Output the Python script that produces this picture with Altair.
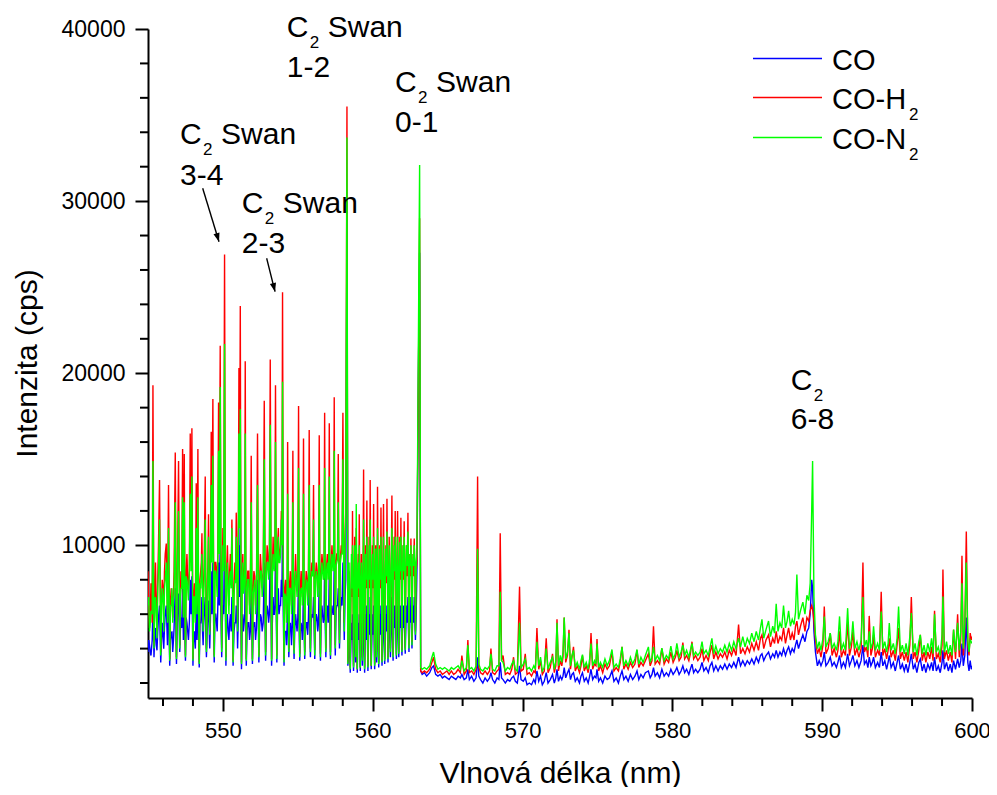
import altair as alt
import pandas as pd

# ---------------- spectrum data ----------------
# Region A: 545 - 558.3 nm (Swan 3-4, 2-3 band sequences, up to 1-2 head)
wl_a = [545.00, 545.10, 545.20, 545.28, 545.33, 545.40, 545.50, 545.60, 545.70, 545.77,
        545.85, 545.95, 546.05, 546.15, 546.22, 546.30, 546.37, 546.45, 546.55, 546.65,
        546.74, 546.82, 546.90, 546.97, 547.04, 547.12, 547.20, 547.31, 547.36, 547.42,
        547.50, 547.60, 547.70, 547.82, 547.87, 547.93, 548.00, 548.10, 548.16, 548.22,
        548.27, 548.33, 548.42, 548.52, 548.60, 548.68, 548.75, 548.82, 548.90, 548.97,
        549.04, 549.12, 549.22, 549.27, 549.33, 549.42, 549.52, 549.62, 549.71, 549.76,
        549.82, 549.92, 550.00, 550.11, 550.20, 550.30, 550.40, 550.50, 550.60, 550.68,
        550.80, 550.89, 550.98, 551.07, 551.11, 551.16, 551.24, 551.33, 551.42, 551.49,
        551.56, 551.66, 551.78, 551.89, 551.97, 552.07, 552.18, 552.31, 552.40, 552.50,
        552.62, 552.76, 552.85, 552.95, 553.05, 553.16, 553.25, 553.35, 553.43, 553.51,
        553.60, 553.70, 553.80, 553.90, 553.98, 554.08, 554.18, 554.25, 554.32, 554.40,
        554.50, 554.58, 554.67, 554.75, 554.85, 554.95, 555.05, 555.13, 555.22, 555.30,
        555.38, 555.46, 555.56, 555.66, 555.76, 555.84, 555.94, 556.05, 556.13, 556.23,
        556.33, 556.43, 556.51, 556.61, 556.70, 556.79, 556.87, 556.97, 557.03, 557.10,
        557.18, 557.28, 557.35, 557.43, 557.50, 557.60, 557.70, 557.78, 557.90, 558.01,
        558.10, 558.20, 558.28]
co_a = [3800, 4200, 3600, 4500, 6500, 3500, 5200, 3900, 5800, 6500,
        3200, 5500, 4000, 6000, 6500, 4200, 7000, 3000, 4800, 3800,
        5200, 7500, 3100, 6000, 7200, 3800, 5800, 7500, 4500, 7000,
        3300, 5500, 4500, 8000, 6000, 8200, 3000, 5000, 4000, 6500,
        4500, 7500, 2900, 5500, 7000, 4200, 6000, 7000, 3500, 5500,
        6800, 4000, 8500, 6000, 9000, 3200, 6000, 5000, 9000, 6500,
        10000, 3500, 6500, 11000, 3000, 6000, 4500, 6000, 7000, 3000,
        5500, 6500, 4000, 10000, 7000, 12000, 2800, 6000, 5500, 9000,
        3000, 5500, 4500, 7500, 3100, 5500, 4500, 8000, 3200, 6000,
        5000, 9000, 3300, 6500, 5500, 10000, 3000, 7000, 6000, 9500,
        3200, 7500, 6500, 8000, 11500, 3000, 5000, 4200, 8000, 3500,
        5500, 4200, 7500, 3400, 6000, 5000, 8500, 3300, 5500, 4500,
        8000, 3400, 5500, 4800, 8000, 3500, 6000, 7000, 3400, 6000,
        5000, 8000, 3300, 6500, 5500, 9000, 3500, 6500, 5500, 8500,
        3400, 6500, 6000, 9000, 3600, 6500, 7500, 4000, 7000, 9000,
        4500, 8000, 30000]
h2_a = [8500, 5200, 7800, 5500, 19300, 4200, 9000, 5000, 10000, 13800,
        3800, 8000, 6500, 9500, 10100, 6000, 13500, 3400, 7500, 5800,
        8500, 15400, 3500, 9000, 14900, 4200, 8500, 15600, 6000, 15300,
        3600, 9500, 7500, 16500, 9000, 16800, 3400, 7800, 6000, 13600,
        6500, 15600, 3200, 8500, 10700, 5500, 9000, 14000, 4000, 8000,
        11800, 5000, 16600, 10000, 18500, 3600, 9000, 8000, 18300, 11000,
        21600, 4000, 11000, 26900, 3500, 10000, 6500, 9500, 11500, 3300,
        9000, 11900, 5500, 20300, 12000, 23900, 3200, 9500, 8000, 20700,
        3400, 8500, 6500, 15200, 3400, 8500, 6500, 16500, 3600, 9500,
        7500, 18400, 3800, 10000, 8500, 20800, 3400, 10500, 9000, 19300,
        3600, 11000, 9500, 12000, 24700, 3400, 8000, 6000, 16000, 4000,
        8500, 6500, 15500, 3900, 9500, 7500, 18100, 3700, 8500, 7000,
        16200, 3800, 8500, 7000, 16700, 4000, 9000, 13500, 3900, 9000,
        7500, 16400, 3700, 9500, 8500, 17700, 4000, 9500, 8500, 17100,
        3800, 10000, 9000, 18600, 4200, 9500, 15300, 4500, 10000, 17700,
        5500, 12000, 35500]
n2_a = [6500, 5000, 6200, 6000, 14900, 4000, 7000, 4600, 8500, 11500,
        3600, 7500, 5000, 8000, 9000, 5500, 11000, 3300, 6500, 5500,
        7200, 12500, 3400, 8500, 12000, 4000, 7500, 12800, 5800, 12500,
        3500, 8000, 6800, 13000, 8500, 14000, 3300, 7000, 5500, 11000,
        6000, 12800, 3100, 7500, 9500, 5000, 8000, 11500, 3800, 7000,
        10500, 4800, 13500, 9000, 15200, 3500, 8500, 7000, 15500, 9500,
        19200, 3800, 10000, 21700, 3300, 9000, 6000, 8500, 11000, 3200,
        8000, 10500, 5000, 16500, 11000, 17900, 3100, 9000, 7500, 16500,
        3300, 8000, 6000, 12500, 3300, 7500, 6000, 13500, 3500, 8500,
        7000, 15000, 3600, 9000, 8000, 17000, 3300, 9500, 8500, 16000,
        3400, 10500, 9000, 11500, 19500, 3200, 7000, 5500, 13000, 3800,
        7500, 6000, 12500, 3700, 8500, 7000, 14500, 3500, 7500, 6500,
        13000, 3600, 8000, 6500, 13500, 3800, 8500, 11500, 3600, 8500,
        7000, 13500, 3500, 9000, 8000, 14500, 3800, 9000, 8000, 14000,
        3600, 9500, 8500, 15500, 4000, 9000, 12500, 4300, 9500, 15000,
        5000, 11500, 33700]

# Region A, fine structure between the main lines
wl_af = [545.05, 545.15, 545.45, 545.55, 545.65, 545.90, 546.00, 546.10, 546.50, 546.60,
         546.70, 547.16, 547.25, 547.46, 547.55, 547.65, 547.76, 548.05, 548.37, 548.47,
         548.56, 548.64, 548.71, 548.86, 549.00, 549.08, 549.17, 549.38, 549.47, 549.57,
         549.66, 549.87, 549.96, 550.05, 550.16, 550.25, 550.35, 550.45, 550.55, 550.64,
         550.74, 550.85, 550.94, 551.02, 551.20, 551.29, 551.37, 551.46, 551.53, 551.61,
         551.72, 551.83, 551.93, 552.02, 552.12, 552.24, 552.36, 552.45, 552.56, 552.69,
         552.81, 552.90, 553.00, 553.10, 553.21, 553.30, 553.39, 553.47, 553.56, 553.65,
         553.75, 553.85, 553.94, 554.03, 554.13, 554.22, 554.29, 554.36, 554.45, 554.54,
         554.62, 554.71, 554.80, 554.90, 555.00, 555.09, 555.17, 555.26, 555.34, 555.42,
         555.51, 555.61, 555.71, 555.80, 555.89, 556.00, 556.09, 556.18, 556.28, 556.38,
         556.47, 556.56, 556.65, 556.75, 556.83, 556.92, 557.00, 557.06, 557.14, 557.23,
         557.31, 557.39, 557.47, 557.55, 557.65, 557.74, 557.84, 557.95, 558.06, 558.15]
co_af = [4500, 3800, 4800, 4200, 5000, 4500, 4800, 5200, 4500, 5000,
         4500, 5000, 5200, 5000, 5800, 5000, 5500, 4800, 5000, 5500,
         6000, 5000, 5200, 5000, 5800, 5200, 5800, 5500, 6000, 5500,
         6500, 6000, 5500, 6000, 6500, 5500, 5000, 5500, 5000, 5500,
         5000, 5500, 6000, 5500, 6000, 5500, 5000, 6000, 6000, 5000,
         5500, 5000, 5500, 5200, 5500, 5200, 5800, 5200, 5800, 5500,
         6000, 5800, 6200, 6000, 6200, 5500, 6000, 6500, 6000, 6500,
         6000, 6500, 7000, 6000, 5000, 5000, 5500, 5000, 5200, 5000,
         5500, 5000, 5200, 5500, 5800, 5200, 5000, 5200, 5500, 5200,
         5000, 5500, 5800, 5200, 5500, 5800, 5200, 5500, 5800, 5500,
         5200, 5800, 6000, 5800, 5500, 6000, 6200, 5800, 5500, 6000,
         6200, 6000, 5800, 6200, 6500, 6000, 6200, 6500, 6500, 7000]
h2_af = [6500, 6000, 7000, 6500, 8000, 6500, 7500, 8500, 6800, 7000,
         7200, 7000, 7500, 7000, 8500, 8000, 8500, 7000, 7500, 8000,
         9000, 7500, 7500, 7000, 9000, 8000, 9000, 8000, 9000, 8500,
         9500, 8500, 8500, 9000, 9500, 8500, 8000, 8500, 8000, 8500,
         7500, 8000, 9000, 8500, 9000, 8500, 7500, 9000, 9000, 7500,
         8500, 7500, 8000, 7500, 8200, 7800, 8500, 7800, 8500, 8500,
         9000, 8500, 9500, 9000, 9500, 8500, 9000, 9500, 9000, 10000,
         9000, 10000, 10500, 9000, 7500, 7000, 8000, 7500, 7800, 7500,
         8000, 7500, 7800, 8000, 8500, 7500, 7500, 7800, 8000, 7500,
         7500, 8000, 8500, 7800, 8200, 8500, 7800, 8200, 8500, 8200,
         7800, 8500, 9000, 8500, 8000, 8800, 9000, 8500, 8000, 9000,
         9200, 9000, 8500, 9000, 9500, 9000, 9200, 9500, 9500, 10000]
n2_af = [7000, 5500, 6800, 6000, 7500, 6500, 7000, 7500, 6500, 7500,
         6800, 7000, 7500, 7200, 8200, 7500, 8500, 7000, 7000, 7800,
         8500, 7200, 7000, 7000, 8500, 7500, 8500, 8000, 8500, 8000,
         9000, 8500, 8000, 8500, 9000, 8000, 7500, 8000, 7500, 8000,
         7000, 7800, 8500, 8000, 8500, 8000, 7200, 8500, 8500, 7200,
         8000, 7200, 8000, 7200, 8000, 7500, 8200, 7500, 8500, 8200,
         8500, 8200, 9000, 8800, 9000, 8200, 8800, 9500, 8800, 9500,
         9000, 9500, 10000, 8500, 7200, 7000, 7800, 7200, 7500, 7200,
         7800, 7200, 7500, 7800, 8200, 7500, 7200, 7500, 7800, 7500,
         7200, 7800, 8200, 7500, 8000, 8200, 7500, 8000, 8200, 8000,
         7500, 8200, 8500, 8200, 8000, 8500, 8800, 8500, 8000, 8800,
         9000, 8800, 8500, 8800, 9200, 8800, 9000, 9500, 9000, 9800]

# Region B: 558.3 - 563.2 nm (Swan 1-2 tail up to the 0-1 head)
wl_b = [558.34, 558.42, 558.50, 558.58, 558.65, 558.72, 558.80, 558.86, 558.90, 558.97,
        559.04, 559.10, 559.17, 559.24, 559.31, 559.39, 559.46, 559.53, 559.61, 559.68,
        559.76, 559.83, 559.90, 559.98, 560.06, 560.13, 560.20, 560.26, 560.32, 560.40,
        560.47, 560.55, 560.62, 560.72, 560.80, 560.88, 560.95, 561.02, 561.10, 561.18,
        561.28, 561.36, 561.43, 561.50, 561.58, 561.66, 561.74, 561.81, 561.88, 561.95,
        562.03, 562.10, 562.17, 562.25, 562.35, 562.42, 562.48, 562.55, 562.62, 562.70,
        562.77, 562.85, 562.95, 563.05, 563.13, 563.20]
co_b = [3000, 5000, 2600, 5500, 6000, 2700, 6000, 3200, 6500, 2600,
        5500, 6000, 2700, 5500, 3000, 7000, 2600, 6000, 6500, 2700,
        6000, 7000, 2800, 6000, 6500, 2800, 6000, 3200, 7000, 2900,
        6000, 6500, 3000, 6500, 3100, 6000, 6500, 3200, 6500, 3500,
        7000, 3300, 6500, 6500, 3400, 6500, 3500, 6500, 6500, 3600,
        6500, 6500, 3700, 6500, 7000, 3800, 6500, 7000, 4000, 6500,
        7000, 4500, 8500, 20000, 27000, 2700]
h2_b = [3200, 8500, 2900, 9000, 12000, 3000, 10500, 3800, 11000, 2800,
        9500, 11800, 2900, 9500, 3500, 14400, 2900, 10000, 12600, 3000,
        10500, 13800, 3000, 10000, 12400, 3100, 10000, 3800, 13400, 3200,
        10000, 12200, 3300, 12400, 3400, 10000, 12700, 3500, 10500, 4000,
        12900, 3600, 10500, 12000, 3700, 12000, 3800, 10500, 11600, 3900,
        10000, 11400, 4000, 10000, 11900, 4200, 9500, 10400, 4400, 9500,
        10400, 5000, 9000, 20000, 29000, 2700]
n2_b = [3100, 9000, 2800, 9500, 10000, 2900, 10000, 3500, 12400, 2800,
        9000, 10000, 2900, 9000, 3300, 11500, 2800, 9500, 10500, 2900,
        10000, 11500, 3000, 9500, 10500, 3000, 9800, 3500, 11000, 3100,
        9800, 10500, 3200, 10500, 3300, 9800, 10800, 3400, 10000, 3800,
        11000, 3500, 10000, 10500, 3600, 10500, 3700, 10200, 10500, 3800,
        10000, 10500, 3900, 10000, 10800, 4000, 9500, 10000, 4200, 9500,
        10000, 4800, 9500, 22000, 32100, 2900]

# Region B, fine structure
wl_bf = [558.38, 558.46, 558.54, 558.62, 558.69, 558.76, 558.83, 558.94, 559.00, 559.07,
         559.14, 559.20, 559.28, 559.35, 559.43, 559.50, 559.57, 559.65, 559.72, 559.80,
         559.87, 559.94, 560.02, 560.10, 560.17, 560.23, 560.29, 560.36, 560.44, 560.51,
         560.59, 560.67, 560.76, 560.84, 560.92, 560.99, 561.06, 561.14, 561.23, 561.32,
         561.40, 561.47, 561.54, 561.62, 561.70, 561.78, 561.85, 561.91, 561.99, 562.06,
         562.13, 562.21, 562.30, 562.38, 562.45, 562.52, 562.58, 562.66, 562.73, 562.81,
         562.90]
co_bf = [3500, 4000, 4200, 4500, 4000, 4500, 4200, 4000, 4500, 4500,
         4200, 4500, 4200, 4500, 4000, 4500, 4500, 4200, 4500, 4800,
         4200, 4500, 4800, 4200, 4500, 4800, 4500, 4800, 4500, 4800,
         4500, 4800, 4500, 4800, 5000, 4800, 5000, 4800, 5000, 4800,
         5000, 5200, 5000, 5200, 5000, 5200, 5200, 5000, 5200, 5200,
         5000, 5200, 5500, 5200, 5500, 5500, 5200, 5500, 5500, 5800,
         6000]
h2_bf = [5000, 6000, 6500, 7000, 6500, 7000, 6500, 6500, 7000, 7000,
         6500, 7000, 6500, 7500, 6500, 7000, 7500, 6500, 7000, 7500,
         6500, 7000, 7500, 6500, 7000, 7500, 7000, 7500, 7000, 7500,
         7000, 7500, 7000, 7500, 7800, 7500, 7800, 7500, 8000, 7500,
         7800, 8000, 7800, 8000, 7800, 8000, 8000, 7800, 8000, 8000,
         7800, 8000, 8200, 8000, 8000, 8200, 8000, 8200, 8200, 8500,
         8500]
n2_bf = [6000, 6500, 7000, 7500, 7000, 7500, 7000, 7000, 7500, 7500,
         7000, 7500, 7000, 8000, 7000, 7500, 8000, 7000, 7500, 8000,
         7000, 7500, 8000, 7000, 7500, 8000, 7500, 8000, 7500, 8000,
         7500, 8000, 7500, 8000, 8200, 8000, 8200, 8000, 8500, 8000,
         8200, 8500, 8200, 8500, 8200, 8500, 8500, 8200, 8500, 8500,
         8200, 8500, 8800, 8500, 8500, 8800, 8500, 8800, 8800, 9000,
         9000]

# Region C: 563.3 - 581.9 nm (baseline with isolated lines)
wl_c = [563.30, 563.45, 563.60, 563.80, 563.95, 564.06, 564.20, 564.35, 564.50, 564.65,
        564.80, 564.95, 565.10, 565.25, 565.40, 565.55, 565.70, 565.85, 565.95, 566.10,
        566.25, 566.35, 566.45, 566.60, 566.75, 566.90, 567.00, 567.08, 567.20, 567.35,
        567.50, 567.65, 567.80, 567.89, 568.00, 568.15, 568.30, 568.42, 568.51, 568.60,
        568.70, 568.85, 569.00, 569.15, 569.28, 569.40, 569.52, 569.65, 569.80, 569.90,
        570.05, 570.18, 570.30, 570.45, 570.60, 570.75, 570.85, 570.96, 571.08, 571.20,
        571.32, 571.45, 571.58, 571.70, 571.85, 572.00, 572.12, 572.22, 572.30, 572.40,
        572.52, 572.62, 572.70, 572.78, 572.88, 573.00, 573.10, 573.20, 573.30, 573.40,
        573.52, 573.65, 573.80, 573.90, 574.00, 574.12, 574.25, 574.38, 574.48, 574.57,
        574.68, 574.80, 574.90, 574.97, 575.08, 575.20, 575.35, 575.50, 575.65, 575.80,
        575.97, 576.10, 576.25, 576.40, 576.52, 576.64, 576.76, 576.90, 577.05, 577.20,
        577.35, 577.50, 577.64, 577.76, 577.90, 578.05, 578.20, 578.40, 578.52, 578.64,
        578.74, 578.85, 579.00, 579.15, 579.30, 579.45, 579.60, 579.75, 579.90, 580.05,
        580.20, 580.30, 580.45, 580.58, 580.70, 580.82, 580.95, 581.10, 581.20, 581.31,
        581.42, 581.55, 581.70, 581.85]
co_c = [2500, 2600, 2400, 2600, 2900, 3000, 2500, 2400, 2500, 2300,
        2400, 2300, 2200, 2400, 2300, 2200, 2400, 2300, 2500, 2200,
        2300, 2800, 2200, 2400, 2100, 2300, 3500, 2400, 2200, 2000,
        2300, 2100, 2300, 2600, 2200, 2000, 2300, 2200, 3200, 2300,
        2200, 2000, 2200, 2100, 2300, 2400, 2100, 2000, 3000, 2200,
        2100, 2300, 1900, 2000, 1900, 2200, 2000, 2700, 2100, 2400,
        1900, 2100, 2600, 2000, 2200, 2500, 2000, 2300, 2800, 2100,
        2400, 2200, 2400, 2900, 2300, 2600, 2800, 2200, 2500, 2600,
        2100, 2300, 2000, 2400, 2600, 2100, 2300, 2000, 2400, 2800,
        2200, 2400, 2300, 2800, 2100, 2300, 2000, 2400, 2200, 2300,
        2700, 2100, 2300, 2000, 2400, 2700, 2200, 2400, 2100, 2500,
        2200, 2400, 2700, 2200, 2500, 2300, 2600, 2700, 2300, 2500,
        2900, 2400, 2600, 2300, 2800, 2400, 2600, 2400, 2800, 2500,
        2700, 2900, 2500, 2700, 3000, 2600, 2800, 2500, 2800, 3100,
        2600, 2800, 2600, 2800]
h2_c = [2600, 2700, 2600, 2800, 3200, 3500, 2800, 2600, 2700, 2500,
        2600, 2700, 2500, 2700, 2500, 2600, 2800, 2600, 3600, 2500,
        2700, 4500, 2600, 2700, 2500, 2800, 14000, 2900, 2600, 2500,
        2700, 2500, 2700, 4000, 2600, 2500, 2700, 2800, 10700, 3300,
        3600, 2500, 2600, 2500, 2800, 3500, 2500, 2600, 7600, 2700,
        2800, 3700, 2500, 2600, 2400, 2700, 2600, 5200, 2800, 3300,
        2500, 2700, 4600, 2600, 2900, 3700, 2600, 3000, 5700, 2700,
        3300, 3000, 3500, 5800, 3200, 3600, 5100, 2800, 3500, 4100,
        2700, 3000, 2600, 3000, 3600, 2700, 3000, 2600, 3100, 4900,
        2800, 3100, 3000, 4550, 2700, 3000, 2600, 3100, 2800, 3000,
        3800, 2700, 2900, 2700, 3200, 4100, 2800, 3100, 2800, 3200,
        2900, 3100, 3900, 2900, 3200, 3000, 3300, 3700, 3000, 3300,
        5300, 3100, 3300, 3100, 4000, 3100, 3400, 3200, 3800, 3200,
        3500, 3900, 3300, 3500, 4350, 3400, 3600, 3300, 3700, 4400,
        3400, 3600, 3300, 3500]
n2_c = [2800, 2900, 2800, 3000, 3500, 3800, 3100, 2800, 2900, 2800,
        2900, 2800, 2700, 2900, 2800, 2900, 3000, 2800, 3300, 2700,
        2900, 4200, 2800, 2900, 2700, 3000, 9800, 3100, 2800, 2700,
        2900, 2800, 3000, 3700, 2800, 2700, 3000, 3000, 7300, 3300,
        3200, 2700, 2900, 2800, 3100, 3300, 2800, 2700, 5500, 2900,
        3100, 3400, 2800, 2900, 2700, 3000, 2800, 4400, 3000, 3500,
        2700, 2900, 4000, 2800, 3200, 3500, 2800, 3300, 5500, 3000,
        3600, 3200, 3800, 5800, 3400, 3800, 4900, 3000, 3600, 3900,
        2900, 3200, 2800, 3300, 3650, 2900, 3200, 2800, 3400, 4300,
        3000, 3300, 3100, 4300, 2900, 3200, 2900, 3400, 3000, 3300,
        3950, 2900, 3100, 2900, 3400, 4100, 3000, 3300, 3000, 3500,
        3100, 3400, 3950, 3100, 3500, 3200, 3600, 4100, 3200, 3500,
        4100, 3300, 3600, 3300, 4030, 3300, 3600, 3400, 4150, 3400,
        3700, 4300, 3500, 3800, 4200, 3600, 3900, 3500, 3900, 4300,
        3600, 3800, 3600, 3800]

# Region D: 582 - 600 nm (rising baseline, C2 6-8 line at 589.4 nm)
wl_d = [581.98, 582.10, 582.25, 582.40, 582.52, 582.64, 582.76, 582.90, 583.05, 583.20,
        583.35, 583.50, 583.65, 583.80, 583.95, 584.10, 584.25, 584.42, 584.55, 584.70,
        584.85, 585.00, 585.15, 585.30, 585.45, 585.60, 585.75, 585.88, 585.98, 586.10,
        586.25, 586.42, 586.55, 586.70, 586.82, 586.93, 587.05, 587.18, 587.30, 587.42,
        587.55, 587.66, 587.76, 587.88, 588.00, 588.12, 588.22, 588.31, 588.42, 588.55,
        588.71, 588.85, 588.98, 589.10, 589.20, 589.30, 589.36, 589.45, 589.55, 589.68,
        589.80, 589.92, 590.05, 590.14, 590.25, 590.40, 590.54, 590.66, 590.80, 590.95,
        591.05, 591.16, 591.28, 591.42, 591.55, 591.70, 591.82, 591.95, 592.05, 592.18,
        592.32, 592.45, 592.60, 592.72, 592.82, 592.95, 593.05, 593.14, 593.25, 593.35,
        593.43, 593.55, 593.70, 593.82, 593.94, 594.05, 594.18, 594.30, 594.40, 594.48,
        594.60, 594.75, 594.88, 595.00, 595.10, 595.22, 595.35, 595.48, 595.60, 595.72,
        595.85, 595.95, 596.08, 596.20, 596.32, 596.45, 596.55, 596.68, 596.80, 596.92,
        597.05, 597.18, 597.30, 597.40, 597.50, 597.62, 597.75, 597.88, 598.00, 598.06,
        598.16, 598.30, 598.42, 598.55, 598.66, 598.77, 598.90, 599.04, 599.15, 599.25,
        599.33, 599.42, 599.52, 599.62, 599.72, 599.80, 599.88, 599.95, 600.00]
co_d = [3200, 2700, 2900, 2600, 3000, 3200, 2700, 3000, 2700, 3000,
        2800, 3100, 2800, 3100, 2900, 3200, 2900, 3500, 3000, 3300,
        3000, 3300, 3100, 3400, 3100, 3500, 3200, 3600, 3700, 3300,
        3600, 3800, 3400, 3700, 3500, 3900, 3500, 3800, 3600, 4000,
        3600, 3900, 4100, 3700, 4000, 3800, 4200, 4500, 4000, 4400,
        4800, 4400, 5000, 5200, 6000, 8000, 7500, 5000, 3800, 3000,
        3300, 3000, 3300, 3800, 3000, 3200, 3500, 3000, 3200, 2900,
        3200, 3600, 2900, 3200, 2900, 3700, 3000, 3300, 3600, 3000,
        3300, 2900, 3300, 4200, 3100, 3300, 2900, 3500, 3000, 3200,
        3500, 2900, 3200, 2900, 3800, 3000, 3300, 2800, 3200, 3600,
        2900, 3200, 2700, 3200, 3600, 2800, 3100, 2700, 3100, 2600,
        3200, 3700, 2800, 3100, 2600, 3200, 3400, 2700, 3100, 2600,
        3100, 2800, 3200, 2700, 3500, 2700, 3000, 2600, 3200, 3900,
        2800, 3200, 2700, 3100, 2600, 3300, 2800, 3400, 2900, 3300,
        4300, 3000, 3600, 5800, 3200, 2700, 3300, 2800, 3000]
h2_d = [4000, 3300, 3600, 3300, 3800, 4200, 3400, 3800, 3400, 3700,
        3500, 3800, 3400, 3900, 3600, 4000, 3600, 5400, 3700, 4000,
        3700, 4100, 3800, 4300, 3900, 4400, 3900, 4600, 4800, 4000,
        4500, 4800, 4100, 4600, 4300, 5000, 4300, 4700, 4500, 5200,
        4300, 4800, 5200, 4500, 4900, 4500, 5300, 5600, 4800, 5300,
        5800, 5000, 5800, 5600, 6200, 6500, 6300, 5600, 4500, 3700,
        4000, 3500, 4200, 6450, 3700, 4000, 4900, 3600, 4000, 3500,
        3900, 5000, 3500, 3900, 3600, 5500, 3600, 4100, 5000, 3600,
        4000, 3500, 4000, 9000, 3800, 4100, 3500, 5900, 3600, 4000,
        4800, 3500, 3900, 3600, 7300, 3600, 4000, 3400, 3900, 4600,
        3500, 3900, 3300, 4200, 5200, 3400, 3800, 3300, 3800, 3200,
        4200, 7000, 3400, 3800, 3200, 3900, 4800, 3300, 3800, 3200,
        3800, 3400, 4100, 3300, 6200, 3400, 3700, 3200, 4200, 8600,
        3400, 3900, 3300, 3800, 3200, 5100, 3400, 6000, 3500, 4500,
        9400, 3600, 5000, 10800, 4200, 3600, 4900, 4500, 4700]
n2_d = [4400, 3700, 3900, 3600, 4100, 4600, 3700, 4150, 3700, 4000,
        3800, 4200, 3800, 4300, 3900, 4400, 4000, 4600, 4100, 4700,
        4100, 4600, 4300, 4900, 4400, 5000, 4500, 5200, 5700, 4600,
        5100, 5600, 4700, 5300, 4900, 6600, 5000, 5500, 5200, 6500,
        5200, 5600, 6200, 5300, 5700, 5400, 6100, 8300, 5700, 6200,
        6700, 6000, 7100, 6800, 7800, 12000, 14900, 7000, 4800, 4000,
        4400, 3900, 4600, 5870, 4100, 4400, 4900, 4000, 4300, 3900,
        4400, 5870, 3900, 4300, 3900, 6350, 4000, 4500, 5580, 4000,
        4400, 3900, 4500, 7000, 4100, 4500, 3900, 5000, 4000, 4300,
        5300, 3900, 4300, 3900, 6160, 4000, 4400, 3800, 4300, 5480,
        3900, 4300, 3700, 4600, 6450, 3800, 4200, 3700, 4300, 3600,
        4700, 6060, 3800, 4300, 3600, 4400, 4800, 3700, 4200, 3600,
        4300, 3800, 4600, 3700, 6000, 3800, 4100, 3600, 4800, 7030,
        3800, 4400, 3700, 4200, 3600, 5100, 3800, 5500, 3900, 5000,
        7800, 4000, 5500, 9000, 4500, 3800, 4500, 4400, 4300]

series_names = ["CO", "CO-H2", "CO-N2"]
series_colors = ["#0000ff", "#ff0000", "#00ff00"]

# Annotations (anchor = left edge / baseline of the "C", in data units)
ann_x = [547.14, 551.26, 554.26, 561.49, 587.90]
ann_y1 = [33318, 29292, 39553, 36357, 19026]
ann_y2 = [30936, 26968, 37229, 34033, 16742]
ann_word = ["Swan", "Swan", "Swan", "Swan", ""]
ann_band = ["3-4", "2-3", "1-2", "0-1", "6-8"]

# Arrows (start -> tip) in data units
arr_x1 = [548.65, 552.92]
arr_y1 = [30745, 26678]
arr_x2 = [549.74, 553.48]
arr_y2 = [27642, 24737]
arr_angle = [343, 346]

# Axis ticks
x_major = [550, 560, 570, 580, 590, 600]
x_minor = [546, 548, 552, 554, 556, 558, 562, 564, 566, 568, 572, 574, 576, 578,
           582, 584, 586, 588, 592, 594, 596, 598]
y_major = [10000, 20000, 30000, 40000]
y_minor = [2000, 4000, 6000, 8000, 12000, 14000, 16000, 18000, 22000, 24000, 26000,
           28000, 32000, 34000, 36000, 38000]

# ---------------- build ----------------
wl = wl_a + wl_af + wl_b + wl_bf + wl_c + wl_d
vals = [co_a + co_af + co_b + co_bf + co_c + co_d,
        h2_a + h2_af + h2_b + h2_bf + h2_c + h2_d,
        n2_a + n2_af + n2_b + n2_bf + n2_c + n2_d]
df = pd.concat([pd.DataFrame({"wl": wl, "val": v, "series": s})
                for v, s in zip(vals, series_names)], ignore_index=True)
df = df.sort_values(["series", "wl"]).reset_index(drop=True)

FONT = "Liberation Sans"
W, H = 824, 669
xs = alt.Scale(domain=[545, 600], nice=False, zero=False)
ys = alt.Scale(domain=[1130, 40000], nice=False, zero=False)

x_axis = alt.Axis(
    values=x_major, format="d", tickSize=13,
    tickWidth=2, tickColor="black", domainColor="black", domainWidth=2,
    grid=False, labelOverlap=False, labelFlush=False,
    labelFont=FONT, labelFontSize=22, labelColor="black", labelPadding=9,
    title="Vlnová délka (nm)", titleFont=FONT, titleFontSize=30, titleFontWeight="normal",
    titleColor="black", titleX=412, titleY=84, titleBaseline="alphabetic", titleAlign="center",
)
y_axis = alt.Axis(
    values=y_major, format="d", tickSize=13,
    tickWidth=2, tickColor="black", domainColor="black", domainWidth=2,
    grid=False, labelOverlap=False, labelFlush=False,
    labelFont=FONT, labelFontSize=23, labelColor="black", labelPadding=10,
    title="Intenzita (cps)", titleFont=FONT, titleFontSize=30, titleFontWeight="normal",
    titleColor="black", titleX=-112, titleY=334, titleAngle=-90,
    titleBaseline="alphabetic", titleAlign="center",
)


def X(field):
    return alt.X(field, scale=xs, axis=x_axis)


def Y(field):
    return alt.Y(field, scale=ys, axis=y_axis)


line_layers = [
    alt.Chart(df).transform_filter(alt.datum.series == s)
    .mark_line(color=c, strokeWidth=1.4, clip=True)
    .encode(x=X("wl:Q"), y=Y("val:Q"))
    for s, c in zip(series_names, series_colors)
]

# minor ticks (drawn as short rules just outside the axes)
xmin_df = pd.DataFrame({"t": x_minor})
ymin_df = pd.DataFrame({"t": y_minor})
x_minor_l = alt.Chart(xmin_df).mark_rule(color="black", strokeWidth=2).encode(
    x=X("t:Q"), y=alt.value(H), y2=alt.value(H + 8))
y_minor_l = alt.Chart(ymin_df).mark_rule(color="black", strokeWidth=2).encode(
    y=Y("t:Q"), x=alt.value(0), x2=alt.value(-8))

ann = pd.DataFrame({"x": ann_x, "y1": ann_y1, "y2": ann_y2, "word": ann_word, "band": ann_band})
tstyle = dict(align="left", baseline="alphabetic", font=FONT, color="black")
ann_c = alt.Chart(ann).mark_text(text="C", fontSize=30, **tstyle).encode(x=X("x:Q"), y=Y("y1:Q"))
ann_sub = alt.Chart(ann).mark_text(text="2", fontSize=17, dx=23, dy=11, **tstyle).encode(
    x=X("x:Q"), y=Y("y1:Q"))
ann_word_l = alt.Chart(ann).mark_text(fontSize=30, dx=41, **tstyle).encode(
    x=X("x:Q"), y=Y("y1:Q"), text="word:N")
ann_band_l = alt.Chart(ann).mark_text(fontSize=30, **tstyle).encode(
    x=X("x:Q"), y=Y("y2:Q"), text="band:N")

arr = pd.DataFrame({"x1": arr_x1, "y1": arr_y1, "x2": arr_x2, "y2": arr_y2, "ang": arr_angle})
arrow_shaft = alt.Chart(arr).mark_rule(color="black", strokeWidth=1.4).encode(
    x=X("x1:Q"), y=Y("y1:Q"), x2="x2:Q", y2="y2:Q")
arrow_head = alt.Chart(arr).mark_point(
    shape="M0,0L-0.36,-1L0.36,-1Z", filled=True, color="black", opacity=1, size=300, strokeWidth=0
).encode(x=X("x2:Q"), y=Y("y2:Q"), angle=alt.Angle("ang:Q", scale=None))

# Legend drawn by hand (subscripts), pixel positions inside the plot area
leg_names = ["CO", "CO-H", "CO-N"]
leg_subs = ["", "2", "2"]
leg_rows = [29.5, 68.5, 108.5]
leg_layers = []
for name, sub, col, py in zip(leg_names, leg_subs, series_colors, leg_rows):
    leg_layers.append(alt.Chart(pd.DataFrame({"n": [name]})).mark_rule(
        color=col, strokeWidth=1.5).encode(x=alt.value(605), x2=alt.value(674), y=alt.value(py)))
    leg_layers.append(alt.Chart(pd.DataFrame({"n": [name]})).mark_text(
        fontSize=29, **tstyle).encode(x=alt.value(684), y=alt.value(py + 11), text="n:N"))
    if sub:
        leg_layers.append(alt.Chart(pd.DataFrame({"n": [sub]})).mark_text(
            fontSize=17, **tstyle).encode(x=alt.value(761), y=alt.value(py + 22), text="n:N"))

chart = alt.layer(
    *line_layers, x_minor_l, y_minor_l, arrow_shaft, arrow_head,
    ann_c, ann_sub, ann_word_l, ann_band_l, *leg_layers
).properties(
    width=W, height=H,
    autosize=alt.AutoSizeParams(type="none"),
    padding={"left": 140, "top": 21, "right": 17, "bottom": 89},
    background="white",
).configure_view(stroke=None)

chart.save("out.html", embed_options={"renderer": "svg", "actions": False})
